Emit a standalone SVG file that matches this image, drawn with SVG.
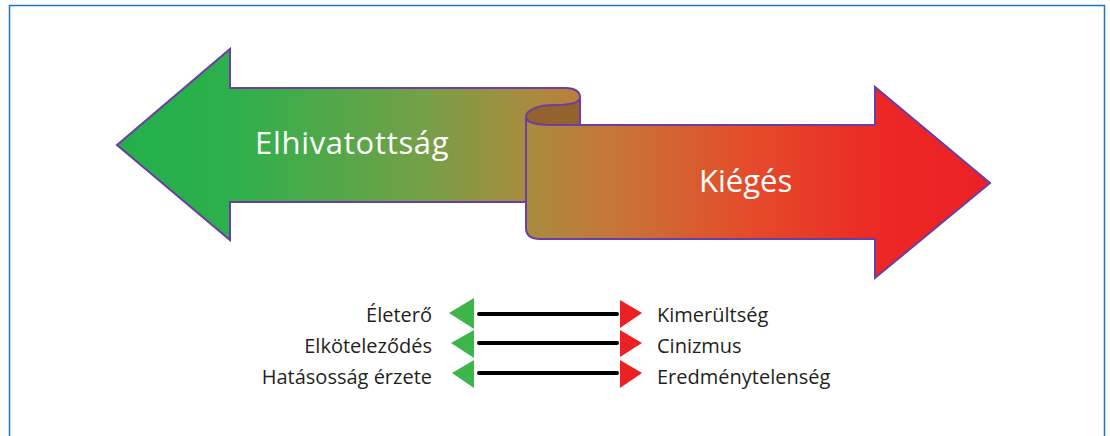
<svg xmlns="http://www.w3.org/2000/svg" width="1110" height="436" viewBox="0 0 1110 436">
<defs>
<linearGradient id="g" gradientUnits="userSpaceOnUse" x1="117" y1="0" x2="990" y2="0">
<stop offset="0" stop-color="#22b04b"/>
<stop offset="0.13" stop-color="#2cb04b"/>
<stop offset="0.35" stop-color="#74a047"/>
<stop offset="0.47" stop-color="#a88b3e"/>
<stop offset="0.56" stop-color="#c4783a"/>
<stop offset="0.72" stop-color="#e44c2a"/>
<stop offset="0.88" stop-color="#ec2725"/>
<stop offset="1" stop-color="#ed2024"/>
</linearGradient>
<style>
.band{fill:url(#g);stroke:#6b3ea3;stroke-width:2;stroke-linejoin:miter}
.big{font-family:"Open Sans","Noto Sans",sans-serif;font-size:31px;fill:#ffffff}
.lbl{font-family:"Open Sans","Noto Sans",sans-serif;font-size:20px;fill:#231f20}
.gr{fill:#3db54a}
.rd{fill:#ed2024}
.ln{stroke:#000;stroke-width:4;stroke-linecap:round}
.frame{stroke:#1c77c3;stroke-width:1.5;fill:none}
</style>
</defs>
<rect width="1110" height="436" fill="#ffffff"/>
<path class="frame" d="M9.5,436 L9.5,5.5 L1104.5,5.5 L1104.5,436"/>
<g id="elhivatottsag">
<path class="band" d="M117,145 L230,49 L230,88 L566,88 C575,88 580,92 580,97 L580,202 L230,202 L230,240 Z"/>
<text class="big" x="255" y="154" letter-spacing="0.7">Elhivatottság</text>
</g>
<g id="kieges">
<path d="M580,97 C580,103 570,105 555,105 C538,105 526,110 526,117 L526,125 L580,125 Z" fill="#94622d" stroke="#6b3ea3" stroke-width="2"/>
<path class="band" d="M526,117 C526,122 536,125 552,125 L875,125 L875,87 L990,183 L875,278 L875,239 L540,239 C531,239 526,235 526,228 Z"/>
<text class="big" x="699" y="192">Kiégés</text>
</g>
<g id="connectors">
<line class="ln" x1="479" y1="314" x2="617" y2="314"/>
<line class="ln" x1="479" y1="343" x2="617" y2="343"/>
<line class="ln" x1="479" y1="373" x2="617" y2="373"/>
<polygon class="gr" points="449,313 474,298 474,329"/>
<polygon class="gr" points="451,343 474,330 474,358"/>
<polygon class="gr" points="452,373 474,360 474,388"/>
<polygon class="rd" points="620,300 642,313 620,328"/>
<polygon class="rd" points="620,330 642,343 620,357"/>
<polygon class="rd" points="620,360 642,373 620,388"/>
</g>
<g id="left-labels">
<text class="lbl" x="432" y="322" text-anchor="end">Életerő</text>
<text class="lbl" x="432" y="353" text-anchor="end">Elköteleződés</text>
<text class="lbl" x="432" y="384" text-anchor="end">Hatásosság érzete</text>
</g>
<g id="right-labels">
<text class="lbl" x="657" y="322">Kimerültség</text>
<text class="lbl" x="657" y="353">Cinizmus</text>
<text class="lbl" x="657" y="384">Eredménytelenség</text>
</g>
</svg>
